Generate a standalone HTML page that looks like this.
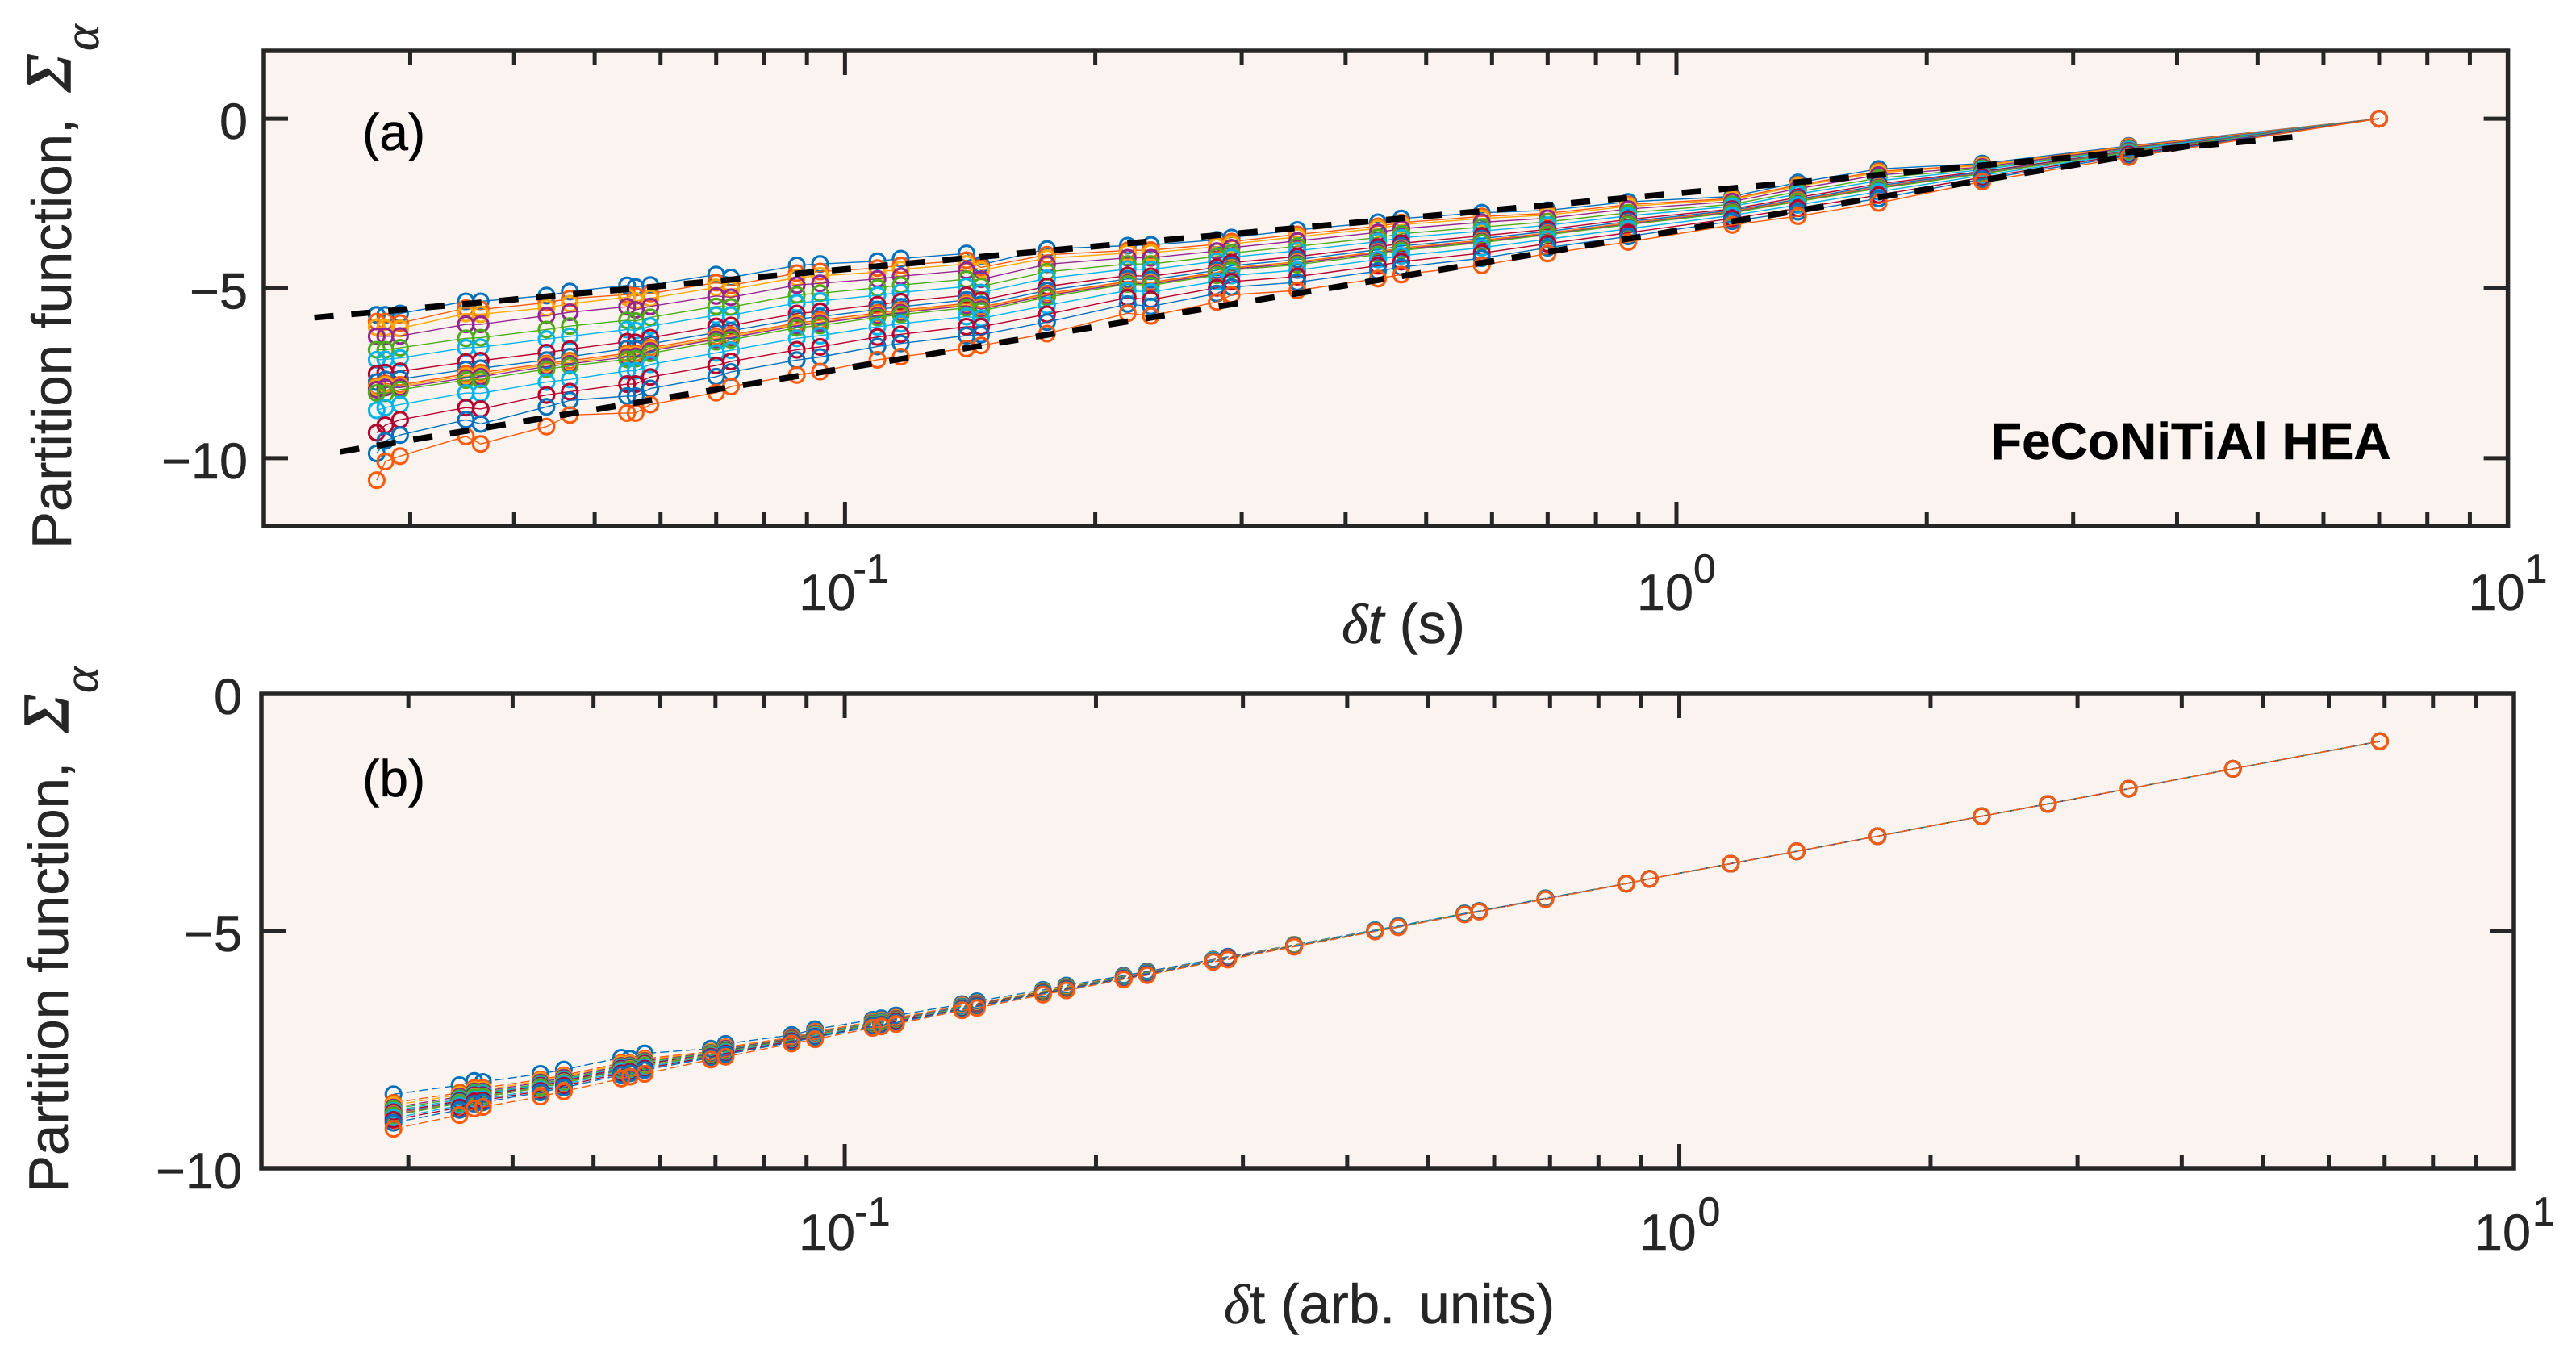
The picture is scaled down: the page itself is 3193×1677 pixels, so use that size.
<!DOCTYPE html>
<html>
<head>
<meta charset="utf-8">
<style>
html,body{margin:0;padding:0;background:#fff;}
svg{display:block;}
text{font-family:"Liberation Sans",sans-serif;fill:#262626;stroke:#262626;stroke-width:0.5px;}
</style>
</head>
<body>
<svg id="chart" xmlns="http://www.w3.org/2000/svg" width="3193" height="1677" viewBox="0 0 3193 1677">
<rect x="0" y="0" width="3193" height="1677" fill="#ffffff"/>
<g id="panelA"></g>
<g id="panelB"></g>
<text x="449" y="186" font-size="64" style="fill:#000;stroke:#000">(a)</text>
<text x="449" y="987" font-size="64" style="fill:#000;stroke:#000">(b)</text>
<text x="2467" y="569" font-size="64" font-weight="bold" style="fill:#000;stroke:#000">FeCoNiTiAl HEA</text>
<text transform="translate(88,680) rotate(-90)" font-size="69">Partition function,</text>
<text transform="translate(87,114) rotate(-90)" font-size="80" font-style="italic" style="font-family:'Liberation Serif',serif;stroke-width:1.5px">Σ</text>
<text transform="translate(122,63) rotate(-90)" font-size="62" font-style="italic" style="font-family:'Liberation Serif',serif">α</text>
<text transform="translate(84,1478) rotate(-90)" font-size="69">Partition function,</text>
<text transform="translate(84,908) rotate(-90)" font-size="80" font-style="italic" style="font-family:'Liberation Serif',serif;stroke-width:1.5px">Σ</text>
<text transform="translate(121,859) rotate(-90)" font-size="62" font-style="italic" style="font-family:'Liberation Serif',serif">α</text>
<text x="1663" y="797" font-size="70"><tspan font-style="italic" style="font-family:'Liberation Serif',serif">δ</tspan><tspan font-style="italic">t</tspan> (s)</text>
<text x="1517" y="1640" font-size="69"><tspan font-style="italic" style="font-family:'Liberation Serif',serif">δ</tspan>t (arb.<tspan dx="10"> units)</tspan></text>
</svg>
<script>
const timeA = [0.02734,0.028,0.02917,0.035,0.03646,0.04375,0.04667,0.05469,0.056,0.05833,0.07,0.07292,0.0875,0.09333,0.1094,0.1167,0.14,0.1458,0.175,0.2188,0.2333,0.28,0.2917,0.35,0.4375,0.4667,0.5833,0.7,0.875,1.167,1.4,1.75,2.333,3.5,7];
const seriesA = [
[-5.78,-5.78,-5.74,-5.38,-5.38,-5.21,-5.09,-4.91,-4.96,-4.90,-4.59,-4.68,-4.32,-4.28,-4.20,-4.12,-3.97,-4.30,-3.84,-3.74,-3.72,-3.57,-3.50,-3.28,-3.05,-2.94,-2.77,-2.70,-2.45,-2.29,-1.88,-1.48,-1.32,-0.80,0],
[-5.98,-5.98,-6.02,-5.58,-5.62,-5.42,-5.30,-5.18,-5.22,-5.15,-4.83,-4.91,-4.55,-4.50,-4.40,-4.32,-4.17,-4.38,-4.01,-3.88,-3.87,-3.70,-3.62,-3.41,-3.17,-3.06,-2.88,-2.79,-2.53,-2.35,-1.95,-1.55,-1.36,-0.82,0],
[-6.14,-6.16,-6.18,-5.74,-5.76,-5.57,-5.45,-5.26,-5.37,-5.29,-4.97,-5.03,-4.68,-4.63,-4.52,-4.44,-4.28,-4.46,-4.11,-3.96,-3.95,-3.77,-3.69,-3.48,-3.23,-3.12,-2.94,-2.84,-2.58,-2.38,-1.99,-1.59,-1.38,-0.84,0],
[-6.41,-6.41,-6.40,-6.06,-6.06,-5.80,-5.70,-5.54,-5.63,-5.53,-5.22,-5.26,-4.90,-4.85,-4.72,-4.64,-4.47,-4.73,-4.29,-4.10,-4.10,-3.90,-3.80,-3.60,-3.35,-3.24,-3.05,-2.93,-2.66,-2.44,-2.06,-1.66,-1.42,-0.86,0],
[-6.81,-6.81,-6.75,-6.47,-6.45,-6.21,-6.11,-5.94,-5.96,-5.85,-5.53,-5.55,-5.19,-5.14,-4.98,-4.90,-4.73,-4.94,-4.51,-4.28,-4.28,-4.06,-3.96,-3.76,-3.50,-3.39,-3.19,-3.04,-2.77,-2.52,-2.15,-1.75,-1.46,-0.89,0],
[-7.10,-7.09,-7.05,-6.75,-6.73,-6.49,-6.41,-6.21,-6.24,-6.11,-5.79,-5.79,-5.43,-5.37,-5.20,-5.12,-4.94,-5.12,-4.70,-4.43,-4.44,-4.20,-4.08,-3.89,-3.62,-3.51,-3.31,-3.14,-2.86,-2.58,-2.22,-1.83,-1.50,-0.91,0],
[-7.52,-7.48,-7.44,-7.17,-7.13,-6.89,-6.79,-6.57,-6.59,-6.45,-6.12,-6.09,-5.74,-5.68,-5.48,-5.39,-5.20,-5.35,-4.94,-4.62,-4.64,-4.38,-4.24,-4.06,-3.78,-3.67,-3.45,-3.26,-2.97,-2.66,-2.32,-1.92,-1.55,-0.95,0],
[-7.76,-7.68,-7.67,-7.39,-7.35,-7.11,-7.01,-6.77,-6.78,-6.63,-6.30,-6.25,-5.90,-5.83,-5.62,-5.54,-5.34,-5.47,-5.06,-4.72,-4.74,-4.47,-4.33,-4.15,-3.86,-3.75,-3.53,-3.32,-3.03,-2.70,-2.37,-1.97,-1.58,-0.96,0],
[-7.88,-7.80,-7.84,-7.52,-7.48,-7.21,-7.13,-6.91,-6.91,-6.75,-6.42,-6.37,-6.02,-5.94,-5.72,-5.64,-5.44,-5.55,-5.15,-4.79,-4.82,-4.53,-4.39,-4.22,-3.92,-3.81,-3.58,-3.37,-3.07,-2.73,-2.40,-2.01,-1.60,-0.97,0],
[-7.92,-7.84,-7.88,-7.58,-7.54,-7.25,-7.18,-6.96,-6.96,-6.80,-6.47,-6.41,-6.06,-5.99,-5.77,-5.68,-5.48,-5.59,-5.19,-4.82,-4.85,-4.56,-4.41,-4.24,-3.95,-3.83,-3.61,-3.39,-3.09,-2.74,-2.42,-2.02,-1.61,-0.98,0],
[-7.98,-7.92,-7.92,-7.64,-7.60,-7.30,-7.22,-7.02,-7.00,-6.84,-6.50,-6.45,-6.10,-6.02,-5.80,-5.71,-5.51,-5.61,-5.21,-4.84,-4.87,-4.58,-4.43,-4.26,-3.96,-3.85,-3.62,-3.40,-3.10,-2.75,-2.43,-2.03,-1.61,-0.98,0],
[-8.08,-8.09,-7.98,-7.70,-7.68,-7.38,-7.28,-7.09,-7.07,-6.91,-6.57,-6.51,-6.16,-6.09,-5.85,-5.77,-5.57,-5.66,-5.26,-4.87,-4.91,-4.61,-4.46,-4.30,-4.00,-3.88,-3.65,-3.42,-3.12,-2.77,-2.44,-2.05,-1.62,-0.99,0],
[-8.59,-8.51,-8.42,-8.08,-8.09,-7.76,-7.68,-7.43,-7.43,-7.24,-6.90,-6.82,-6.47,-6.39,-6.13,-6.04,-5.83,-5.88,-5.50,-5.06,-5.11,-4.79,-4.62,-4.46,-4.15,-4.04,-3.80,-3.55,-3.24,-2.85,-2.54,-2.15,-1.67,-1.02,0],
[-9.25,-9.03,-8.87,-8.51,-8.55,-8.14,-8.04,-7.82,-7.82,-7.61,-7.27,-7.15,-6.81,-6.72,-6.43,-6.35,-6.13,-6.13,-5.76,-5.27,-5.33,-4.98,-4.80,-4.65,-4.33,-4.21,-3.96,-3.68,-3.36,-2.94,-2.64,-2.25,-1.73,-1.05,0],
[-9.86,-9.49,-9.32,-8.87,-8.99,-8.49,-8.30,-8.17,-8.17,-7.95,-7.60,-7.46,-7.11,-7.02,-6.71,-6.62,-6.39,-6.36,-5.99,-5.46,-5.53,-5.15,-4.96,-4.82,-4.49,-4.37,-4.11,-3.80,-3.47,-3.02,-2.74,-2.35,-1.78,-1.09,0],
[-10.65,-10.10,-9.94,-9.36,-9.58,-9.07,-8.73,-8.67,-8.67,-8.42,-8.07,-7.89,-7.55,-7.45,-7.10,-7.01,-6.77,-6.68,-6.33,-5.73,-5.81,-5.40,-5.19,-5.06,-4.71,-4.59,-4.32,-3.97,-3.63,-3.13,-2.87,-2.48,-1.85,-1.13,0]
];
const timeB = [0.02879,0.03455,0.03599,0.03685,0.04319,0.04607,0.05398,0.05528,0.05758,0.0691,0.07198,0.08638,0.09213,0.108,0.1106,0.1152,0.1382,0.144,0.1728,0.1843,0.2159,0.2303,0.2764,0.2879,0.3455,0.4319,0.4607,0.5528,0.5758,0.691,0.8638,0.9213,1.152,1.382,1.728,2.303,2.764,3.455,4.607,6.91];
const seriesB = [
[-8.44,-8.25,-8.16,-8.18,-8.01,-7.92,-7.67,-7.69,-7.58,-7.48,-7.38,-7.19,-7.07,-6.87,-6.84,-6.78,-6.54,-6.48,-6.24,-6.15,-5.94,-5.85,-5.60,-5.54,-5.29,-4.98,-4.89,-4.63,-4.58,-4.31,-4.00,-3.90,-3.58,-3.32,-3.00,-2.58,-2.32,-2.00,-1.58,-1.00],
[-8.62,-8.41,-8.31,-8.31,-8.13,-8.04,-7.78,-7.79,-7.69,-7.54,-7.45,-7.24,-7.12,-6.91,-6.88,-6.83,-6.57,-6.52,-6.27,-6.18,-5.96,-5.87,-5.61,-5.56,-5.30,-4.99,-4.90,-4.63,-4.58,-4.31,-4.00,-3.90,-3.58,-3.32,-3.00,-2.58,-2.32,-2.00,-1.58,-1.00],
[-8.67,-8.45,-8.35,-8.35,-8.16,-8.07,-7.81,-7.81,-7.72,-7.55,-7.47,-7.25,-7.14,-6.92,-6.89,-6.84,-6.58,-6.52,-6.27,-6.18,-5.97,-5.88,-5.62,-5.56,-5.30,-4.99,-4.90,-4.63,-4.58,-4.31,-4.00,-3.90,-3.58,-3.32,-3.00,-2.58,-2.32,-2.00,-1.58,-1.00],
[-8.72,-8.49,-8.38,-8.38,-8.19,-8.09,-7.84,-7.83,-7.74,-7.57,-7.48,-7.26,-7.15,-6.93,-6.90,-6.85,-6.59,-6.53,-6.28,-6.19,-5.97,-5.88,-5.62,-5.56,-5.31,-4.99,-4.90,-4.63,-4.58,-4.31,-4.00,-3.90,-3.58,-3.32,-3.00,-2.58,-2.32,-2.00,-1.58,-1.00],
[-8.75,-8.52,-8.41,-8.41,-8.22,-8.12,-7.86,-7.85,-7.76,-7.58,-7.50,-7.27,-7.16,-6.94,-6.91,-6.86,-6.60,-6.54,-6.28,-6.19,-5.97,-5.88,-5.62,-5.57,-5.31,-4.99,-4.90,-4.63,-4.58,-4.31,-4.00,-3.90,-3.58,-3.32,-3.00,-2.58,-2.32,-2.00,-1.58,-1.00],
[-8.79,-8.55,-8.44,-8.43,-8.24,-8.14,-7.88,-7.87,-7.79,-7.59,-7.51,-7.28,-7.17,-6.95,-6.92,-6.87,-6.60,-6.55,-6.29,-6.20,-5.98,-5.89,-5.62,-5.57,-5.31,-4.99,-4.90,-4.63,-4.58,-4.31,-4.00,-3.90,-3.58,-3.32,-3.00,-2.58,-2.32,-2.00,-1.58,-1.00],
[-8.82,-8.58,-8.46,-8.46,-8.26,-8.16,-7.90,-7.89,-7.80,-7.60,-7.52,-7.28,-7.18,-6.96,-6.93,-6.87,-6.61,-6.55,-6.29,-6.20,-5.98,-5.89,-5.63,-5.57,-5.31,-5.00,-4.91,-4.64,-4.58,-4.32,-4.00,-3.90,-3.58,-3.32,-3.00,-2.58,-2.32,-2.00,-1.58,-1.00],
[-8.85,-8.60,-8.48,-8.48,-8.28,-8.18,-7.92,-7.90,-7.82,-7.61,-7.53,-7.29,-7.19,-6.97,-6.94,-6.88,-6.61,-6.56,-6.30,-6.21,-5.98,-5.89,-5.63,-5.57,-5.31,-5.00,-4.91,-4.64,-4.58,-4.32,-4.00,-3.90,-3.58,-3.32,-3.00,-2.58,-2.32,-2.00,-1.58,-1.00],
[-8.86,-8.62,-8.50,-8.49,-8.29,-8.19,-7.93,-7.91,-7.83,-7.61,-7.54,-7.29,-7.19,-6.97,-6.94,-6.88,-6.62,-6.56,-6.30,-6.21,-5.99,-5.90,-5.63,-5.57,-5.31,-5.00,-4.91,-4.64,-4.58,-4.32,-4.00,-3.90,-3.58,-3.32,-3.00,-2.58,-2.32,-2.00,-1.58,-1.00],
[-8.87,-8.62,-8.50,-8.49,-8.29,-8.19,-7.93,-7.91,-7.83,-7.62,-7.54,-7.30,-7.19,-6.97,-6.94,-6.89,-6.62,-6.56,-6.30,-6.21,-5.99,-5.90,-5.63,-5.58,-5.31,-5.00,-4.91,-4.64,-4.58,-4.32,-4.00,-3.90,-3.58,-3.32,-3.00,-2.58,-2.32,-2.00,-1.58,-1.00],
[-8.88,-8.63,-8.51,-8.50,-8.30,-8.20,-7.93,-7.92,-7.84,-7.62,-7.54,-7.30,-7.20,-6.97,-6.94,-6.89,-6.62,-6.56,-6.30,-6.21,-5.99,-5.90,-5.63,-5.58,-5.31,-5.00,-4.91,-4.64,-4.58,-4.32,-4.00,-3.90,-3.58,-3.32,-3.00,-2.58,-2.32,-2.00,-1.58,-1.00],
[-8.89,-8.63,-8.51,-8.50,-8.30,-8.20,-7.94,-7.92,-7.84,-7.62,-7.54,-7.30,-7.20,-6.97,-6.94,-6.89,-6.62,-6.57,-6.30,-6.21,-5.99,-5.90,-5.63,-5.58,-5.31,-5.00,-4.91,-4.64,-4.58,-4.32,-4.00,-3.90,-3.58,-3.32,-3.00,-2.58,-2.32,-2.00,-1.58,-1.00],
[-8.94,-8.68,-8.55,-8.54,-8.34,-8.23,-7.97,-7.95,-7.87,-7.64,-7.56,-7.31,-7.21,-6.99,-6.96,-6.90,-6.63,-6.58,-6.31,-6.22,-5.99,-5.90,-5.63,-5.58,-5.32,-5.00,-4.91,-4.64,-4.58,-4.32,-4.00,-3.90,-3.58,-3.32,-3.00,-2.58,-2.32,-2.00,-1.58,-1.00],
[-8.98,-8.72,-8.59,-8.57,-8.37,-8.26,-8.00,-7.97,-7.90,-7.65,-7.58,-7.32,-7.23,-7.00,-6.97,-6.91,-6.64,-6.58,-6.31,-6.22,-6.00,-5.91,-5.64,-5.58,-5.32,-5.00,-4.91,-4.64,-4.58,-4.32,-4.00,-3.90,-3.58,-3.32,-3.00,-2.58,-2.32,-2.00,-1.58,-1.00],
[-9.04,-8.77,-8.64,-8.61,-8.40,-8.30,-8.03,-8.00,-7.93,-7.67,-7.60,-7.34,-7.24,-7.01,-6.98,-6.93,-6.65,-6.59,-6.32,-6.23,-6.01,-5.92,-5.64,-5.59,-5.32,-5.00,-4.91,-4.64,-4.58,-4.32,-4.00,-3.90,-3.58,-3.32,-3.00,-2.58,-2.32,-2.00,-1.58,-1.00],
[-9.17,-8.88,-8.74,-8.71,-8.49,-8.38,-8.11,-8.07,-8.01,-7.71,-7.65,-7.37,-7.28,-7.04,-7.01,-6.96,-6.67,-6.62,-6.34,-6.25,-6.02,-5.93,-5.65,-5.60,-5.33,-5.01,-4.92,-4.65,-4.59,-4.33,-4.00,-3.90,-3.58,-3.32,-3.00,-2.58,-2.32,-2.00,-1.58,-1.00]
];
const seriesColors = ["#0072BD","#FF5A0A","#FFA800","#93278F","#4DAC1A","#00B5EC","#B7002E","#0072BD","#FF5A0A","#FFA800","#93278F","#4DAC1A","#00B5EC","#B7002E","#0072BD","#FF5A0A"];
const upperFitTime = [0.023,5.75];
const upperFitValue = [-5.86,-0.5];
const lowerFitTime = [0.0247,4.14];
const lowerFitValue = [-9.81,-0.8];
const yTicksA = [0,-5,-10];
const yTicksB = [0,-5,-10];
const xDecades = [-1,0,1];
const minorMultipliers = [2,3,4,5,6,7,8,9];

const SVGNS = "http://www.w3.org/2000/svg";
const INK = "#262626";

function make(tag, parent, attrs) {
  const el = document.createElementNS(SVGNS, tag);
  for (const k in attrs) el.setAttribute(k, attrs[k]);
  parent.appendChild(el);
  return el;
}

function makeAxes(box, xMin, xMax, yMin, yMax) {
  const lmin = Math.log10(xMin), lmax = Math.log10(xMax);
  return {
    x: function (t) { return box.left + (Math.log10(t) - lmin) / (lmax - lmin) * (box.right - box.left); },
    y: function (v) { return box.top + (yMax - v) / (yMax - yMin) * (box.bottom - box.top); }
  };
}

function drawPanel(root, prefix, box, axes, times, series, yTicks, fixed, dash) {
  const bg = make("rect", root, {x: box.left, y: box.top, width: box.right - box.left, height: box.bottom - box.top, fill: "#fbf3f0"});
  
  

  series.forEach(function (vals, s) {
    const g = make("g", root, {});
    
    
    const pts = vals.map(function (v, i) { return axes.x(times[i]).toFixed(1) + "," + axes.y(v).toFixed(1); }).join(" ");
    const line = make("polyline", g, {points: pts, fill: "none", stroke: seriesColors[s], "stroke-width": 1.4});
    if (dash) line.setAttribute("stroke-dasharray", dash);
    
    
    vals.forEach(function (v, i) {
      const c = make("circle", g, {cx: axes.x(times[i]).toFixed(1), cy: axes.y(v).toFixed(1), r: 9.5, fill: "none", stroke: seriesColors[s], "stroke-width": 3.1});
      
      
    });
  });

  if (fixed) fixed(root);

  const ticks = make("g", root, {stroke: INK, "stroke-width": 5, fill: "none"});
  
  

  xDecades.forEach(function (d) {
    const decade = Math.pow(10, d);
    const px = axes.x(decade);
    if (px < box.right - 1) {
      const t1 = make("line", ticks, {x1: px, x2: px, y1: box.top, y2: box.top + 30});
      
      
      const t2 = make("line", ticks, {x1: px, x2: px, y1: box.bottom, y2: box.bottom - 30});
      
      
    }
    const isNeg = d < 0;
    const labelRight = px + (isNeg ? 13 : 21);
    const base = make("text", root, {x: labelRight, y: box.xLabelY, "font-size": 63, "text-anchor": "end"});
    base.textContent = "10";
    
    
    const sup = make("text", root, {x: labelRight + (isNeg ? -3 : 0) + box.supGap, y: box.xSupY, "font-size": 50});
    sup.textContent = String(d);
    
    
  });

  [-2, -1, 0].forEach(function (d) {
    minorMultipliers.forEach(function (m) {
      const t = m * Math.pow(10, d);
      const px = axes.x(t);
      if (px <= box.left + 1 || px >= box.right - 1) return;
      const a = make("line", ticks, {x1: px, x2: px, y1: box.top, y2: box.top + 17});
      
      
      const b = make("line", ticks, {x1: px, x2: px, y1: box.bottom, y2: box.bottom - 17});
      
      
    });
  });

  yTicks.forEach(function (v) {
    const py = axes.y(v);
    if (py > box.top + 1 && py < box.bottom - 1) {
      const a = make("line", ticks, {x1: box.left, x2: box.left + 30, y1: py, y2: py});
      
      
      const b = make("line", ticks, {x1: box.right, x2: box.right - 30, y1: py, y2: py});
      
      
    }
    const lab = make("text", root, {x: box.yLabelX, y: py + 25, "font-size": 63, "text-anchor": "end"});
    lab.textContent = v < 0 ? "\u2212" + Math.abs(v) : String(v);
    
    
  });

  const frame = make("rect", root, {x: box.left, y: box.top, width: box.right - box.left, height: box.bottom - box.top, fill: "none", stroke: INK, "stroke-width": 5.5});
  
  
}

const boxA = {left: 327, right: 3108.6, top: 63, bottom: 652, xLabelY: 756, xSupY: 722, yLabelX: 307, supGap: 0};
const boxB = {left: 324, right: 3116, top: 860, bottom: 1448, xLabelY: 1549, xSupY: 1519, yLabelX: 300, supGap: 2};
const axesA = makeAxes(boxA, 0.02, 10, -12, 2);
const axesB = makeAxes(boxB, 0.02, 10, -10, 0);

function drawFitLine(root, axes, times, values, name) {
  const pts = times.map(function (t, i) { return axes.x(t).toFixed(1) + "," + axes.y(values[i]).toFixed(1); }).join(" ");
  const fit = make("polyline", root, {points: pts, fill: "none", stroke: "#000", "stroke-width": 7.5, "stroke-dasharray": "24 22"});
  
  
}

drawPanel(document.getElementById("panelA"), "panel-a", boxA, axesA, timeA, seriesA, yTicksA, function (root) {
  drawFitLine(root, axesA, upperFitTime, upperFitValue, 'upper-fit-line');
  drawFitLine(root, axesA, lowerFitTime, lowerFitValue, 'lower-fit-line');
}, null);

drawPanel(document.getElementById("panelB"), "panel-b", boxB, axesB, timeB, seriesB, yTicksB, null, "11 5");
</script>
</body>
</html>
